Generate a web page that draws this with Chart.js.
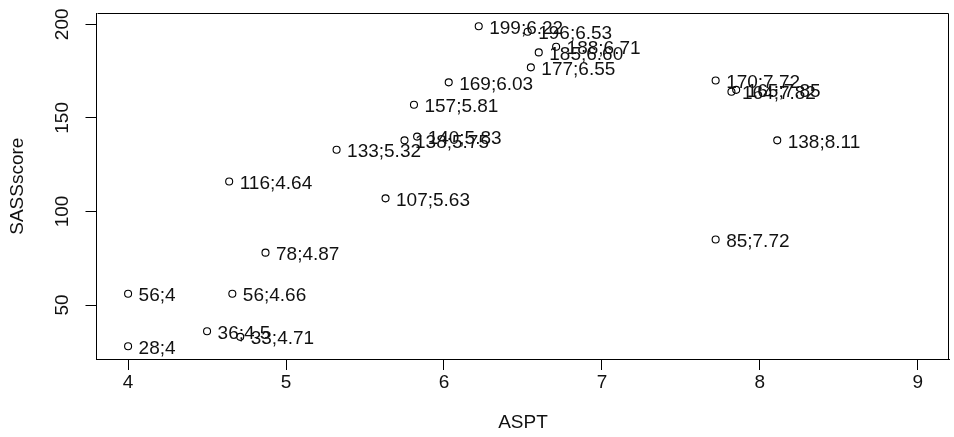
<!DOCTYPE html>
<html>
<head>
<meta charset="utf-8">
<script src="https://cdn.jsdelivr.net/npm/chart.js@4"></script>
<style>
html,body{margin:0;padding:0;background:#fff;}
canvas{display:block;}
</style>
</head>
<body>
<canvas id="c" width="954" height="437" style="width:954px;height:437px"></canvas>
<script>
// ---- data ----
const asptValues  = [6.22, 6.53, 6.71, 6.60, 6.55, 6.03, 5.81, 5.83, 5.75, 5.32, 4.64, 5.63, 4.87, 4, 4.66, 4.5, 4.71, 4, 7.72, 7.82, 7.85, 8.11, 7.72];
const sassValues  = [199, 196, 188, 185, 177, 169, 157, 140, 138, 133, 116, 107, 78, 56, 56, 36, 33, 28, 170, 164, 165, 138, 85];
const asptText    = ["6.22","6.53","6.71","6.60","6.55","6.03","5.81","5.83","5.75","5.32","4.64","5.63","4.87","4","4.66","4.5","4.71","4","7.72","7.82","7.85","8.11","7.72"];
const xTickValues = [4, 5, 6, 7, 8, 9];
const yTickValues = [50, 100, 150, 200];
const xTitle = "ASPT";
const yTitle = "SASSscore";

const FONT = "Liberation Sans, Arial, sans-serif";
const FS = 19;

const points = asptValues.map((x, i) => ({x: x, y: sassValues[i]}));
const pointLabels = sassValues.map((y, i) => y + ";" + asptText[i]);

const decor = {
  id: 'decor',
  afterDraw(chart) {
    const ctx = chart.ctx;
    const a = chart.chartArea;
    const ys = chart.scales.y;
    ctx.save();
    // top and right box lines
    ctx.strokeStyle = '#000';
    ctx.lineWidth = 1;
    ctx.beginPath();
    ctx.moveTo(Math.round(a.left) + 0.5, Math.round(a.top) + 0.5);
    ctx.lineTo(Math.round(a.right) - 0.5, Math.round(a.top) + 0.5);
    ctx.lineTo(Math.round(a.right) - 0.5, Math.round(a.bottom) + 0.5);
    ctx.stroke();

    ctx.fillStyle = '#111';
    ctx.font = FS + "px " + FONT;
    // y tick labels, rotated
    yTickValues.forEach(v => {
      const py = ys.getPixelForValue(v);
      ctx.save();
      ctx.translate(68, py);
      ctx.rotate(-Math.PI / 2);
      ctx.textAlign = 'center';
      ctx.textBaseline = 'alphabetic';
      ctx.fillText(String(v), 0, 0);
      ctx.restore();
    });
    // y title
    ctx.save();
    ctx.translate(23, (a.top + a.bottom) / 2);
    ctx.rotate(-Math.PI / 2);
    ctx.textAlign = 'center';
    ctx.textBaseline = 'alphabetic';
    ctx.fillText(yTitle, 0, 0);
    ctx.restore();
    // x title
    ctx.textAlign = 'center';
    ctx.textBaseline = 'alphabetic';
    ctx.fillText(xTitle, (a.left + a.right) / 2, 428);

    // point labels
    const meta = chart.getDatasetMeta(0);
    ctx.textAlign = 'left';
    meta.data.forEach((el, i) => {
      ctx.fillText(pointLabels[i], el.x + 10.5, el.y + 7.5);
    });
    ctx.restore();
  }
};

new Chart(document.getElementById('c'), {
  type: 'scatter',
  data: {
    datasets: [{
      data: points,
      pointStyle: 'circle',
      pointRadius: 3.5,
      pointHoverRadius: 3.5,
      pointBorderWidth: 1.1,
      borderColor: '#000',
      backgroundColor: 'rgba(0,0,0,0)',
      showLine: false
    }]
  },
  options: {
    responsive: false,
    animation: false,
    events: [],
    layout: { padding: { top: 9.5, right: 3, left: 0, bottom: 0 } },
    plugins: { legend: { display: false }, tooltip: { enabled: false } },
    scales: {
      x: {
        type: 'linear',
        min: 3.8,
        max: 9.2,
        afterBuildTicks: s => { s.ticks = xTickValues.map(v => ({value: v})); },
        afterFit: s => { s.height = 78; },
        grid: { drawOnChartArea: false, drawTicks: true, tickLength: 11, color: '#000', lineWidth: 1 },
        border: { display: true, color: '#000', width: 1 },
        ticks: { color: '#111', font: { family: FONT, size: FS }, padding: 1, maxRotation: 0, minRotation: 0,
                 callback: v => String(v) }
      },
      y: {
        type: 'linear',
        min: 21.16,
        max: 205.84,
        afterBuildTicks: s => { s.ticks = yTickValues.map(v => ({value: v})); },
        afterFit: s => { s.width = 96.5; },
        grid: { drawOnChartArea: false, drawTicks: true, tickLength: 11, color: '#000', lineWidth: 1 },
        border: { display: true, color: '#000', width: 1 },
        ticks: { color: 'rgba(0,0,0,0)', font: { family: FONT, size: FS }, padding: 2 }
      }
    }
  },
  plugins: [decor]
});
</script>
</body>
</html>
